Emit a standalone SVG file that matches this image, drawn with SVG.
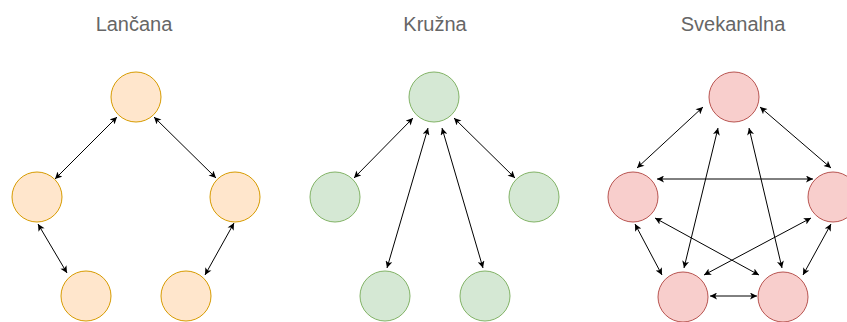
<svg xmlns="http://www.w3.org/2000/svg" width="847" height="322" viewBox="0 0 847 322">
<defs>
<marker id="ah" viewBox="0 0 10 10" refX="10" refY="5" markerWidth="8" markerHeight="7" markerUnits="userSpaceOnUse" orient="auto-start-reverse">
<path d="M0,0 L10,5 L0,10 L2.5,5 z" fill="#000"/>
</marker>
<style>
.t{font-family:"Liberation Sans",Arial,sans-serif;font-size:20px;fill:#666;text-anchor:middle}
.o{fill:#ffe6cc;stroke:#d79b00;stroke-width:1}
.g{fill:#d5e8d4;stroke:#82b366;stroke-width:1}
.r{fill:#f8cecc;stroke:#b85450;stroke-width:1}
.e line{stroke:#000;stroke-width:1;marker-start:url(#ah);marker-end:url(#ah)}
</style>
</defs>
<rect width="847" height="322" fill="#fff"/>
<g id="titles">
<text class="t" x="134" y="31">Lančana</text>
<text class="t" x="435" y="31">Kružna</text>
<text class="t" x="733" y="31">Svekanalna</text>
</g>
<g id="l-top"><circle class="o" cx="136" cy="97" r="25"/></g>
<g id="l-left"><circle class="o" cx="37" cy="197" r="25"/></g>
<g id="l-right"><circle class="o" cx="235" cy="197" r="25"/></g>
<g id="l-bl"><circle class="o" cx="86" cy="296" r="25"/></g>
<g id="l-br"><circle class="o" cx="186" cy="296" r="25"/></g>
<g id="k-top"><circle class="g" cx="434" cy="97" r="25"/></g>
<g id="k-left"><circle class="g" cx="335" cy="197" r="25"/></g>
<g id="k-right"><circle class="g" cx="534" cy="197" r="25"/></g>
<g id="k-bl"><circle class="g" cx="385" cy="296" r="25"/></g>
<g id="k-br"><circle class="g" cx="485" cy="296" r="25"/></g>
<g id="s-top"><circle class="r" cx="734" cy="97" r="25"/></g>
<g id="s-left"><circle class="r" cx="633" cy="197" r="25"/></g>
<g id="s-right"><circle class="r" cx="833" cy="197" r="25"/></g>
<g id="s-bl"><circle class="r" cx="683" cy="297" r="25"/></g>
<g id="s-br"><circle class="r" cx="783" cy="297" r="25"/></g>
<g id="connectors" class="e">
<line x1="117" y1="117" x2="55" y2="179"/>
<line x1="154" y1="117" x2="216" y2="178"/>
<line x1="38" y1="224" x2="67" y2="273"/>
<line x1="234" y1="223" x2="205" y2="275"/>
<line x1="413" y1="118" x2="354" y2="178"/>
<line x1="454" y1="118" x2="515" y2="178"/>
<line x1="428" y1="128" x2="387" y2="268"/>
<line x1="442" y1="128" x2="483" y2="268"/>
<line x1="703" y1="107" x2="637" y2="168"/>
<line x1="760" y1="107" x2="831" y2="168"/>
<line x1="718" y1="128" x2="684" y2="268"/>
<line x1="749" y1="128" x2="782" y2="268"/>
<line x1="657" y1="179" x2="813" y2="179"/>
<line x1="655" y1="218" x2="759" y2="275"/>
<line x1="811" y1="218" x2="704" y2="275"/>
<line x1="635" y1="224" x2="662" y2="275"/>
<line x1="831" y1="224" x2="803" y2="275"/>
<line x1="710" y1="296" x2="757" y2="296"/>
</g>
</svg>
